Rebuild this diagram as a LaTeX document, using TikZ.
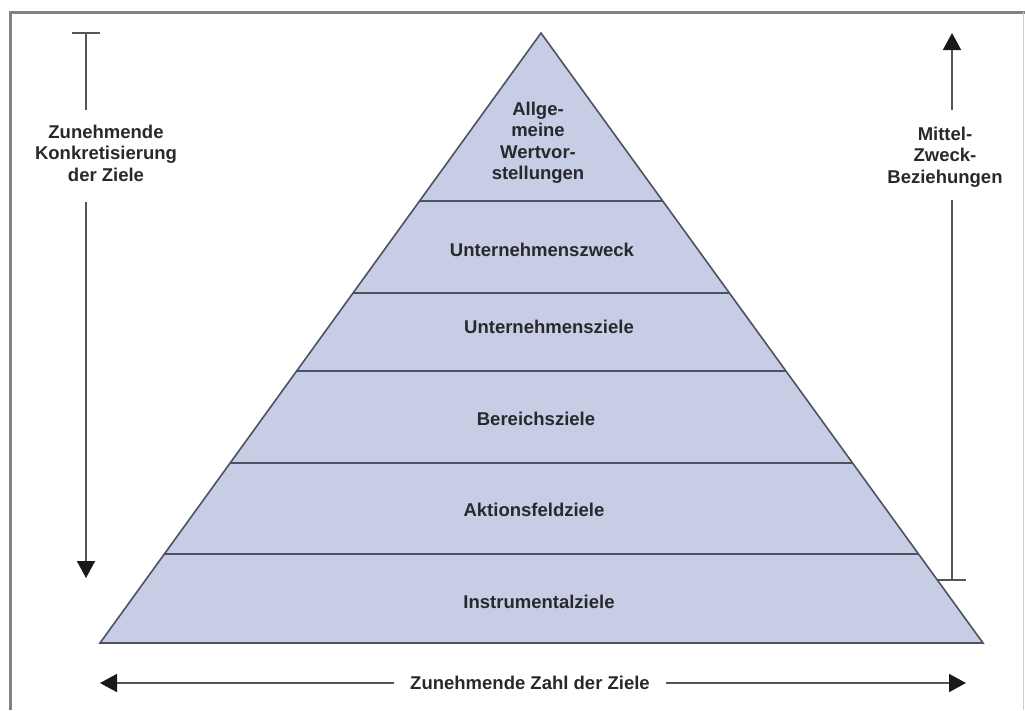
\documentclass[tikz,border=0pt]{standalone}
\usepackage{fontspec}
\setmainfont{Liberation Sans}
\usetikzlibrary{arrows.meta,calc}
\definecolor{pyrfill}{RGB}{198,205,228}
\definecolor{pyrline}{RGB}{78,82,96}
\definecolor{arrline}{RGB}{85,85,85}
\definecolor{tipcol}{RGB}{25,25,25}
\definecolor{txtcol}{RGB}{40,40,45}
\definecolor{framecol}{RGB}{130,130,130}
\begin{document}
\begin{tikzpicture}[x=1pt,y=-1pt,
  lbl/.style={font=\bfseries\fontsize{18.5}{21.5}\selectfont, text=txtcol, align=center, inner sep=0pt},
  layerline/.style={draw=pyrline, line width=1.6pt},
  arr/.style={draw=arrline, line width=1.8pt},
  tip/.style={-{Triangle[width=18pt,length=17pt,color=tipcol]}},
  bar/.style={draw=arrline, line width=1.8pt}]
\useasboundingbox (0,0) rectangle (1025,710);
% frame
\draw[framecol, line width=3pt] (10,710) -- (10,12) -- (1025,12);
\draw[framecol!40, line width=1pt] (1023.5,12) -- (1023.5,710);
% pyramid
\coordinate (apex) at (541,33);
\coordinate (bl) at (100,643);
\coordinate (br) at (983,643);
\fill[pyrfill] (apex) -- (bl) -- (br) -- cycle;
\foreach \f in {0.2754,0.4262,0.5541,0.7049,0.8541}{
  \draw[layerline] ($(apex)!\f!(bl)$) -- ($(apex)!\f!(br)$);
}
\draw[layerline, line join=miter] (apex) -- (bl) -- (br) -- cycle;
% layer labels
\node[lbl] (l1) at (538,143) {Allge-\\meine\\Wertvor-\\stellungen};
\node[lbl] (l2) at (542,250) {Unternehmenszweck};
\node[lbl] (l3) at (549,327) {Unternehmensziele};
\node[lbl] (l4) at (536,419) {Bereichsziele};
\node[lbl] (l5) at (534,510) {Aktionsfeldziele};
\node[lbl] (l6) at (539,602) {Instrumentalziele};
% left arrow
\node[lbl] (left) at (106,153) {Zunehmende\\Konkretisierung\\der Ziele};
\coordinate (ltop) at (86,33);
\coordinate (lbot) at (86,578);
\draw[bar] (72,33) -- (100,33);
\draw[arr] (ltop) -- (86,110);
\draw[arr, tip] (86,202) -- (lbot);
% right arrow
\node[lbl] (right) at (945,157) {Mittel-\\Zweck-\\Beziehungen};
\coordinate (rtop) at (952,33);
\coordinate (rbot) at (952,580);
\draw[bar] (938,580) -- (966,580);
\draw[arr, tip] (952,110) -- (rtop);
\draw[arr] (rbot) -- (952,200);
% bottom arrow
\node[lbl, inner xsep=16pt] (bottom) at (530,683) {Zunehmende Zahl der Ziele};
\coordinate (bleft) at (100,683);
\coordinate (bright) at (966,683);
\draw[arr, tip] (bottom.west) -- (bleft);
\draw[arr, tip] (bottom.east) -- (bright);
\end{tikzpicture}
\end{document}
